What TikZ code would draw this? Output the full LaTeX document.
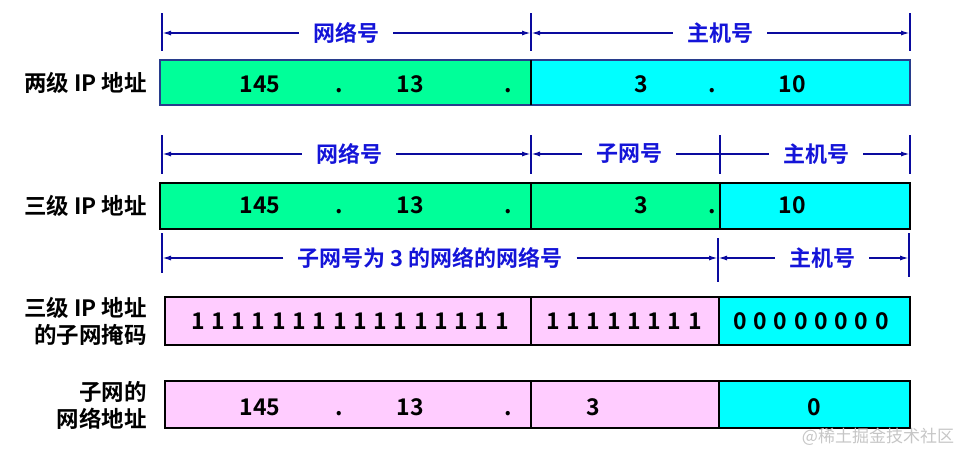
\documentclass[tikz,border=0pt]{standalone}
\usepackage{fontspec}
\setmainfont{Noto Sans CJK SC}[BoldFont={* Bold}]
\usetikzlibrary{arrows.meta}

\definecolor{netgreen}{HTML}{00FF99}
\definecolor{hostcyan}{HTML}{00FFFF}
\definecolor{maskpink}{HTML}{FFCCFF}
\definecolor{partblue}{HTML}{1414D8}
\definecolor{spanblue}{HTML}{0A0A9E}
\definecolor{rimblue}{HTML}{283C8C}

\tikzset{
  field/.style={draw=black, line width=1.3pt, inner sep=0pt, outer sep=0pt},
  num/.style={font=\bfseries\fontsize{23}{23}\selectfont, anchor=base, inner sep=0pt},
  bits/.style={num, execute at begin node={\spaceskip=6.7pt\relax}},
  part/.style={font=\bfseries\fontsize{22}{22}\selectfont, text=partblue, inner xsep=14pt, inner ysep=0pt},
  rowlabel/.style={font=\bfseries\fontsize{22.5}{27}\selectfont, align=right, anchor=east, inner sep=0pt},
  tick/.style={spanblue, line width=1.8pt},
  span/.style={spanblue, line width=1.6pt, -{Latex[length=9pt,width=5pt]}},
  plain/.style={spanblue, line width=1.6pt}
}

\begin{document}
\providecommand*{\xLeft}{}
\providecommand*{\xNet}{}
\providecommand*{\xSub}{}
\providecommand*{\xRight}{}
\renewcommand*{\xLeft}{160}
\renewcommand*{\xNet}{531}
\renewcommand*{\xSub}{720}
\renewcommand*{\xRight}{910}

\begin{tikzpicture}[x=1pt,y=-1pt]
  \useasboundingbox (0,0) rectangle (965,453);

  % row labels
  \node [rowlabel] (lblTwo) at (147,83) {两级 IP 地址};
  \node [rowlabel] (lblThree) at (147,206) {三级 IP 地址};
  \node [rowlabel] (lblMask) at (147,321) {三级 IP 地址\\的子网掩码};
  \node [rowlabel] (lblSubnet) at (147,405) {子网的\\网络地址};

  % two-level address
  \node [field, draw=rimblue, fill=netgreen, minimum width=\xNet-\xLeft, minimum height=45, anchor=north west] (twoNet) at (\xLeft,60) {};
  \node [field, draw=rimblue, fill=hostcyan, minimum width=\xRight-\xNet, minimum height=45, anchor=north west] (twoHost) at (\xNet,60) {};
  \draw [line width=1.3pt] (twoNet.north east) -- (twoNet.south east);
  \foreach \x/\t [count=\k] in {260/145, 339/{.}, 410/13, 508/{.}, 641/3, 712/{.}, 792/10} {
    \node [num] (two-\k) at (\x,92) {\t};
  }

  % three-level address
  \node [field, fill=netgreen, minimum width=\xNet-\xLeft, minimum height=46, anchor=north west] (threeNet) at (\xLeft,183) {};
  \node [field, fill=netgreen, minimum width=\xSub-\xNet, minimum height=46, anchor=north west] (threeSub) at (\xNet,183) {};
  \node [field, fill=hostcyan, minimum width=\xRight-\xSub, minimum height=46, anchor=north west] (threeHost) at (\xSub,183) {};
  \foreach \x/\t [count=\k] in {260/145, 339/{.}, 410/13, 508/{.}, 641/3, 712/{.}, 792/10} {
    \node [num] (three-\k) at (\x,213) {\t};
  }

  % subnet mask
  \node [field, fill=maskpink, minimum width=\xNet-165, minimum height=48, anchor=north west] (maskNet) at (165,297) {};
  \node [field, fill=maskpink, minimum width=\xSub-1-\xNet, minimum height=48, anchor=north west] (maskSub) at (\xNet,297) {};
  \node [field, fill=hostcyan, minimum width=\xRight+1-\xSub, minimum height=48, anchor=north west] (maskHost) at (\xSub-1,297) {};
  \node [bits] (bitsNet) at (350,329) {1 1 1 1 1 1 1 1 1 1 1 1 1 1 1 1};
  \node [bits] (bitsSub) at (624,329) {1 1 1 1 1 1 1 1};
  \node [bits] (bitsHost) at (811,329) {0 0 0 0 0 0 0 0};

  % network address of the subnet
  \node [field, fill=maskpink, minimum width=\xNet-165, minimum height=47, anchor=north west] (subNet) at (165,381) {};
  \node [field, fill=maskpink, minimum width=\xSub-1-\xNet, minimum height=47, anchor=north west] (subSub) at (\xNet,381) {};
  \node [field, fill=hostcyan, minimum width=\xRight+1-\xSub, minimum height=47, anchor=north west] (subHost) at (\xSub-1,381) {};
  \foreach \x/\t [count=\k] in {260/145, 339/{.}, 410/13, 508/{.}, 593/3, 814/0} {
    \node [num] (sub-\k) at (\x,415) {\t};
  }

  % spans above the two-level address
  \foreach \x [count=\k] in {162,\xNet,\xRight} {
    \draw [tick] (\x,13) -- (\x,51);
    \coordinate (ta\k) at (\x,33);
  }
  \node [part] (netA) at (346,33) {网络号};
  \node [part] (hostA) at (720,33) {主机号};
  \draw [span] (netA) -- (ta1);
  \draw [span] (netA) -- (ta2);
  \draw [span] (hostA) -- (ta2);
  \draw [span] (hostA) -- (ta3);

  % spans above the three-level address
  \foreach \x [count=\k] in {162,\xNet,\xSub,\xRight} {
    \draw [tick] (\x,135) -- (\x,174);
    \coordinate (tb\k) at (\x,154);
  }
  \node [part] (netB) at (349,154) {网络号};
  \node [part] (subB) at (629,154) {子网号};
  \node [part] (hostB) at (816,154) {主机号};
  \draw [span] (netB) -- (tb1);
  \draw [span] (netB) -- (tb2);
  \draw [span] (subB) -- (tb2);
  \draw [plain] (subB) -- (hostB);
  \draw [span] (hostB) -- (tb4);

  % spans above the mask
  \draw [tick] (162,233) -- (162,273);
  \draw [tick] (718,238) -- (718,282);
  \draw [tick] (909,233) -- (909,277);
  \coordinate (tc1) at (162,258);
  \coordinate (tc2) at (718,258);
  \coordinate (tc3) at (909,258);
  \node [part] (netC) at (430,258) {子网号为 3 的网络的网络号};
  \node [part] (hostC) at (822,258) {主机号};
  \draw [span] (netC) -- (tc1);
  \draw [span] (netC) -- (tc2);
  \draw [span] (hostC) -- (tc2);
  \draw [span] (hostC) -- (tc3);

  \node [text=gray!45, font=\fontsize{17}{17}\selectfont, inner sep=0pt] (wm) at (878,437) {@稀土掘金技术社区};
\end{tikzpicture}
\end{document}
